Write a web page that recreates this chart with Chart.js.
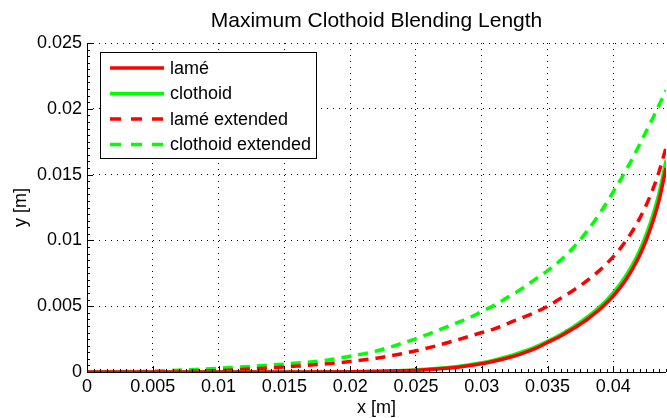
<!DOCTYPE html>
<html>
<head>
<meta charset="utf-8">
<script src="https://cdn.jsdelivr.net/npm/chart.js@4"></script>
<style>
html,body{margin:0;padding:0;background:#fff;}
canvas{display:block;}
</style>
</head>
<body>
<canvas id="c" width="667" height="418"></canvas>
<script>
const chartTitle = "Maximum Clothoid Blending Length";
const xTitle = "x [m]";
const yTitle = "y [m]";
const seriesNames = ["lamé", "clothoid", "lamé extended", "clothoid extended"];

const xTicks = [0, 0.005, 0.01, 0.015, 0.02, 0.025, 0.03, 0.035, 0.04];
const yTicks = [0, 0.005, 0.01, 0.015, 0.02, 0.025];
const xMax = 0.044;
const yMax = 0.025;

const xSolid = [0, 0.005, 0.01, 0.015, 0.02, 0.022, 0.024, 0.025, 0.026, 0.027, 0.028, 0.029, 0.03, 0.031, 0.032, 0.033, 0.034, 0.035, 0.036, 0.0365, 0.037, 0.0375, 0.038, 0.0385, 0.039, 0.0395, 0.04, 0.0405, 0.041, 0.0415, 0.042, 0.0425, 0.043, 0.0435, 0.044];
const yClothoid = [0, 0, 0, 0.000004, 0.00002, 0.00005, 0.00011, 0.00016, 0.00022, 0.0003, 0.0004, 0.00054, 0.0007, 0.00092, 0.00118, 0.0015, 0.00188, 0.00233, 0.00285, 0.00315, 0.00346, 0.0038, 0.00416, 0.00456, 0.00499, 0.00548, 0.00603, 0.00666, 0.00739, 0.00824, 0.00924, 0.01045, 0.01191, 0.01371, 0.01608];
const yLame = [0, 0, 0, 0.000003, 0.000015, 0.00004, 0.00009, 0.00013, 0.00019, 0.00026, 0.00035, 0.00048, 0.00063, 0.00083, 0.00108, 0.00138, 0.00175, 0.00224, 0.00274, 0.00303, 0.00332, 0.00365, 0.00399, 0.00438, 0.00479, 0.00526, 0.00579, 0.00639, 0.00709, 0.00791, 0.00887, 0.01003, 0.01143, 0.01316, 0.0155];

const xLameExt = [0, 0.005, 0.008, 0.01, 0.012, 0.014, 0.016, 0.018, 0.02, 0.022, 0.024, 0.026, 0.028, 0.03, 0.031, 0.032, 0.033, 0.034, 0.035, 0.036, 0.0365, 0.037, 0.0375, 0.038, 0.0385, 0.039, 0.0395, 0.04, 0.0405, 0.041, 0.0415, 0.042, 0.0425, 0.043, 0.0435, 0.044];
const yLameExt = [0, 0.00001, 0.00005, 0.0001, 0.0002, 0.00032, 0.00045, 0.0006, 0.0008, 0.00105, 0.0014, 0.00185, 0.0024, 0.003, 0.0033, 0.0037, 0.0041, 0.0045, 0.005, 0.0056, 0.00591, 0.00623, 0.00657, 0.00694, 0.00734, 0.00776, 0.00824, 0.00877, 0.00936, 0.01003, 0.01079, 0.01167, 0.01269, 0.01388, 0.01531, 0.01704];

const xClothoidExt = [0, 0.004, 0.006, 0.008, 0.01, 0.012, 0.014, 0.016, 0.018, 0.02, 0.022, 0.024, 0.026, 0.027, 0.028, 0.029, 0.03, 0.031, 0.032, 0.033, 0.034, 0.035, 0.036, 0.037, 0.038, 0.039, 0.04, 0.041, 0.042, 0.043, 0.044];
const yClothoidExt = [0, 0.00004, 0.0001, 0.00018, 0.00028, 0.0004, 0.00053, 0.00068, 0.00087, 0.0012, 0.0016, 0.0022, 0.0029, 0.0033, 0.0037, 0.0041, 0.0046, 0.0051, 0.0057, 0.0063, 0.007, 0.0077, 0.0085, 0.0095, 0.0107, 0.0121, 0.0137, 0.0154, 0.0173, 0.0193, 0.0214];

const RED = "#ff0000", GREEN = "#00ff00";
const FONT = "'Liberation Sans', Arial, Helvetica, sans-serif";
const DASH = [10, 7];

function pts(xs, ys){ return xs.map((x,i)=>({x:x, y:ys[i]})); }
function mk(label, xs, ys, color, dash){
  return {label, data: pts(xs, ys), borderColor: color, backgroundColor: color,
    borderWidth: 3.5, borderDash: dash, pointRadius: 0, fill: false,
    cubicInterpolationMode: 'monotone'};
}

const fmt = v => String(parseFloat(Number(v).toFixed(4)));

const decor = {
  id: 'decor',
  afterDatasetsDraw(chart){
    const ctx = chart.ctx, a = chart.chartArea;
    const xs = chart.scales.x, ys = chart.scales.y;
    ctx.save();
    ctx.strokeStyle = '#000'; ctx.lineWidth = 1; ctx.setLineDash([]);
    // minor ticks
    ctx.beginPath();
    for (let i = 0; i <= Math.round(xMax/0.0005); i++){
      const px = Math.round(xs.getPixelForValue(i*0.0005)) + 0.5;
      ctx.moveTo(px, a.bottom); ctx.lineTo(px, a.bottom - 3);
    }
    for (let i = 0; i <= Math.round(yMax/0.0005); i++){
      const py = Math.round(ys.getPixelForValue(i*0.0005)) + 0.5;
      ctx.moveTo(a.left, py); ctx.lineTo(a.left + 3, py);
    }
    ctx.stroke();
    // major ticks
    ctx.beginPath();
    xTicks.forEach(v => { const px = Math.round(xs.getPixelForValue(v)) + 0.5; ctx.moveTo(px, a.bottom); ctx.lineTo(px, a.bottom - 6); });
    yTicks.forEach(v => { const py = Math.round(ys.getPixelForValue(v)) + 0.5; ctx.moveTo(a.left, py); ctx.lineTo(a.left + 6, py); });
    ctx.stroke();
    // axes lines
    ctx.beginPath();
    ctx.moveTo(a.left + 0.5, a.top); ctx.lineTo(a.left + 0.5, a.bottom + 0.5); ctx.lineTo(a.right, a.bottom + 0.5);
    ctx.stroke();

    // legend
    const lx = 100, ly = 52, lw = 216, lh = 106;
    ctx.fillStyle = '#fff';
    ctx.fillRect(lx, ly, lw, lh);
    ctx.strokeRect(lx + 0.5, ly + 0.5, lw, lh);
    const rows = [68, 93.5, 119, 144.5];
    const cols = [RED, GREEN, RED, GREEN];
    ctx.font = "18px " + FONT;
    ctx.textBaseline = 'middle'; ctx.textAlign = 'left';
    rows.forEach((y, i) => {
      ctx.strokeStyle = cols[i]; ctx.lineWidth = 3.5;
      ctx.setLineDash(i >= 2 ? [11, 10] : []);
      ctx.beginPath(); ctx.moveTo(110, y); ctx.lineTo(164, y); ctx.stroke();
      ctx.fillStyle = '#000';
      ctx.fillText(seriesNames[i], 170, y + 1);
    });
    ctx.setLineDash([]);

    // titles
    ctx.fillStyle = '#000';
    ctx.textAlign = 'center';
    ctx.font = "21px " + FONT;
    ctx.fillText(chartTitle, (a.left + a.right)/2, 21);
    ctx.font = "18px " + FONT;
    ctx.fillText(xTitle, (a.left + a.right)/2, 408);
    ctx.translate(21, (a.top + a.bottom)/2);
    ctx.rotate(-Math.PI/2);
    ctx.fillText(yTitle, 0, 0);
    ctx.restore();
  }
};

new Chart(document.getElementById('c'), {
  type: 'line',
  data: {
    datasets: [
      mk(seriesNames[0], xSolid, yLame, RED, []),
      mk(seriesNames[1], xSolid, yClothoid, GREEN, []),
      mk(seriesNames[2], xLameExt, yLameExt, RED, DASH),
      mk(seriesNames[3], xClothoidExt, yClothoidExt, GREEN, DASH)
    ]
  },
  options: {
    responsive: false,
    animation: false,
    devicePixelRatio: 1,
    layout: { padding: { top: 43, right: 1, left: 0, bottom: 0 } },
    plugins: { legend: { display: false }, title: { display: false }, tooltip: { enabled: false } },
    scales: {
      x: {
        type: 'linear', min: 0, max: xMax,
        afterFit: s => { s.height = 46; },
        afterBuildTicks: s => { s.ticks = xTicks.map(v => ({value: v})); },
        ticks: { autoSkip: false, maxRotation: 0, includeBounds: false, color: '#000', padding: 4,
                 font: { size: 18, family: FONT }, callback: fmt },
        grid: { color: '#000', drawTicks: false, tickLength: 0, lineWidth: 1 },
        border: { display: false, dash: [1, 5] }
      },
      y: {
        type: 'linear', min: 0, max: yMax,
        afterFit: s => { s.width = 87; },
        afterBuildTicks: s => { s.ticks = yTicks.map(v => ({value: v})); },
        ticks: { autoSkip: false, includeBounds: false, color: '#000', padding: 5,
                 font: { size: 18, family: FONT }, callback: fmt },
        grid: { color: '#000', drawTicks: false, tickLength: 0, lineWidth: 1 },
        border: { display: false, dash: [1, 5] }
      }
    }
  },
  plugins: [decor]
});
</script>
</body>
</html>
